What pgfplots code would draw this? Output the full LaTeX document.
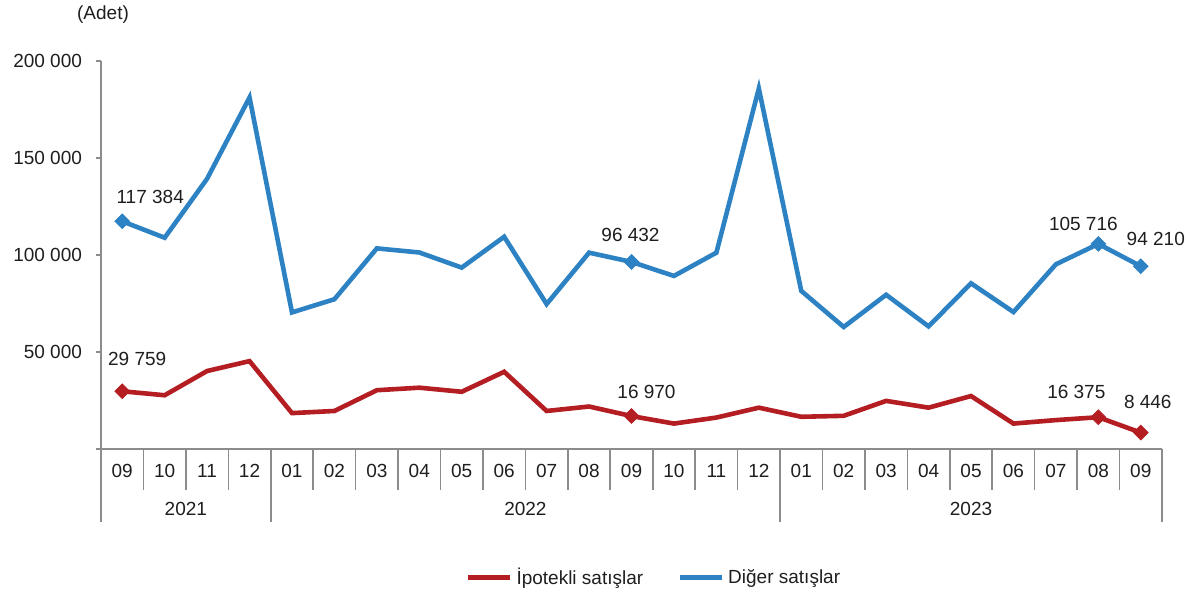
\documentclass[border=0pt]{standalone}
\usepackage{pgfplots}
\pgfplotsset{compat=1.18}
\usepackage{pgfplotstable}
\usepackage{fontspec}
\setmainfont{Liberation Sans}
\definecolor{redline}{RGB}{180,30,35}
\definecolor{blueline}{RGB}{45,130,195}
\definecolor{axgray}{RGB}{140,140,140}
\definecolor{txt}{RGB}{30,30,30}
\newcommand{\chartfont}{\fontsize{9.5}{11.4}\selectfont}

\pgfplotstableread[col sep=comma]{
x,y
0,29759
1,27700
2,40200
3,45300
4,18500
5,19600
6,30300
7,31600
8,29500
9,39800
10,19600
11,21900
12,16970
13,13100
14,16200
15,21300
16,16600
17,17100
18,24800
19,21300
20,27300
21,13100
22,14900
23,16375
24,8446
}\ipotekli

\pgfplotstableread[col sep=comma]{
x,y
0,117384
1,108900
2,139300
3,181200
4,70400
5,77200
6,103400
7,101300
8,93500
9,109400
10,74700
11,101200
12,96432
13,89200
14,101200
15,185800
16,81500
17,62900
18,79500
19,63200
20,85400
21,70600
22,95200
23,105716
24,94210
}\diger

\pgfplotstableread[col sep=comma]{
x,y,dx,dy,lab
0,29759,7.5,16,29 759
12,16970,7.5,12,16 970
23,16375,-11,12.5,16 375
24,8446,3.5,15.5,8 446
}\ipolab

\pgfplotstableread[col sep=comma]{
x,y,dx,dy,lab
0,117384,14,12,117 384
12,96432,-0.5,13.5,96 432
23,105716,-7.5,10,105 716
24,94210,7.5,13.5,94 210
}\diglab

\begin{document}
\begin{tikzpicture}
\useasboundingbox (0,0) rectangle (599.5pt,296.5pt);
\begin{axis}[
  at={(50.5pt,72pt)}, anchor=south west,
  width=530.5pt, height=194pt, scale only axis,
  clip=false,
  xmin=-0.5, xmax=24.5, ymin=0, ymax=200000,
  axis x line=bottom, axis y line=left,
  axis line style={-, axgray, line width=0.8pt},
  font=\chartfont,
  every tick label/.append style={font=\chartfont, text=txt},
  xtick={0,...,24},
  xticklabels={09,10,11,12,01,02,03,04,05,06,07,08,09,10,11,12,01,02,03,04,05,06,07,08,09},
  minor xtick={-0.5,0.5,1.5,2.5,3.5,4.5,5.5,6.5,7.5,8.5,9.5,10.5,11.5,12.5,13.5,14.5,15.5,16.5,17.5,18.5,19.5,20.5,21.5,22.5,23.5,24.5},
  major x tick style={draw=none},
  minor x tick style={axgray, line width=0.8pt},
  minor tick length=20.5pt,
  major tick length=2.5pt,
  tick align=outside,
  xticklabel style={anchor=center, yshift=-8.5pt},
  ytick={0,50000,100000,150000,200000},
  yticklabels={,50 000,100 000,150 000,200 000},
  ytick style={axgray, line width=0.8pt},
  yticklabel style={xshift=-3.5pt},
  scaled y ticks=false,
  legend style={at={(0.522,-0.332)}, anchor=center, draw=none, fill=none,
    legend columns=2, font=\chartfont, text=txt,
    /tikz/every even column/.append style={column sep=15pt}},
  legend image code/.code={\draw[#1, line width=2.5pt] (0pt,0pt) -- (21pt,0pt);},
]
\addplot[redline, line width=2.3pt, no markers] table[x=x,y=y] {\ipotekli};
\addlegendentry{İpotekli satışlar}
\addplot[blueline, line width=2.3pt, no markers] table[x=x,y=y] {\diger};
\addlegendentry{Diğer satışlar}

\addplot[forget plot, only marks, mark=square*, mark size=2.6pt,
  mark options={rotate=45, fill=redline, draw=redline}, color=redline,
  point meta=explicit symbolic,
  visualization depends on={\thisrow{dx}\as\labdx},
  visualization depends on={\thisrow{dy}\as\labdy},
  nodes near coords,
  nodes near coords style={anchor=center, xshift=\labdx pt, yshift=\labdy pt, text=txt, font=\chartfont}]
  table[x=x,y=y,meta=lab] {\ipolab};
\addplot[forget plot, only marks, mark=square*, mark size=2.6pt,
  mark options={rotate=45, fill=blueline, draw=blueline}, color=blueline,
  point meta=explicit symbolic,
  visualization depends on={\thisrow{dx}\as\labdx},
  visualization depends on={\thisrow{dy}\as\labdy},
  nodes near coords,
  nodes near coords style={anchor=center, xshift=\labdx pt, yshift=\labdy pt, text=txt, font=\chartfont}]
  table[x=x,y=y,meta=lab] {\diglab};

\pgfplotsinvokeforeach{-0.5,3.5,15.5,24.5}{
  \draw[axgray, line width=0.8pt] (axis cs:#1,0) -- ++(0pt,-36.5pt);
}
\node[font=\chartfont, text=txt] at ([yshift=-30pt]axis cs:1.5,0) {2021};
\node[font=\chartfont, text=txt] at ([yshift=-30pt]axis cs:9.5,0) {2022};
\node[font=\chartfont, text=txt] at ([yshift=-30pt]axis cs:20,0) {2023};
\end{axis}
\node[font=\chartfont, text=txt] at (51.5pt,289pt) {(Adet)};
\end{tikzpicture}
\end{document}
